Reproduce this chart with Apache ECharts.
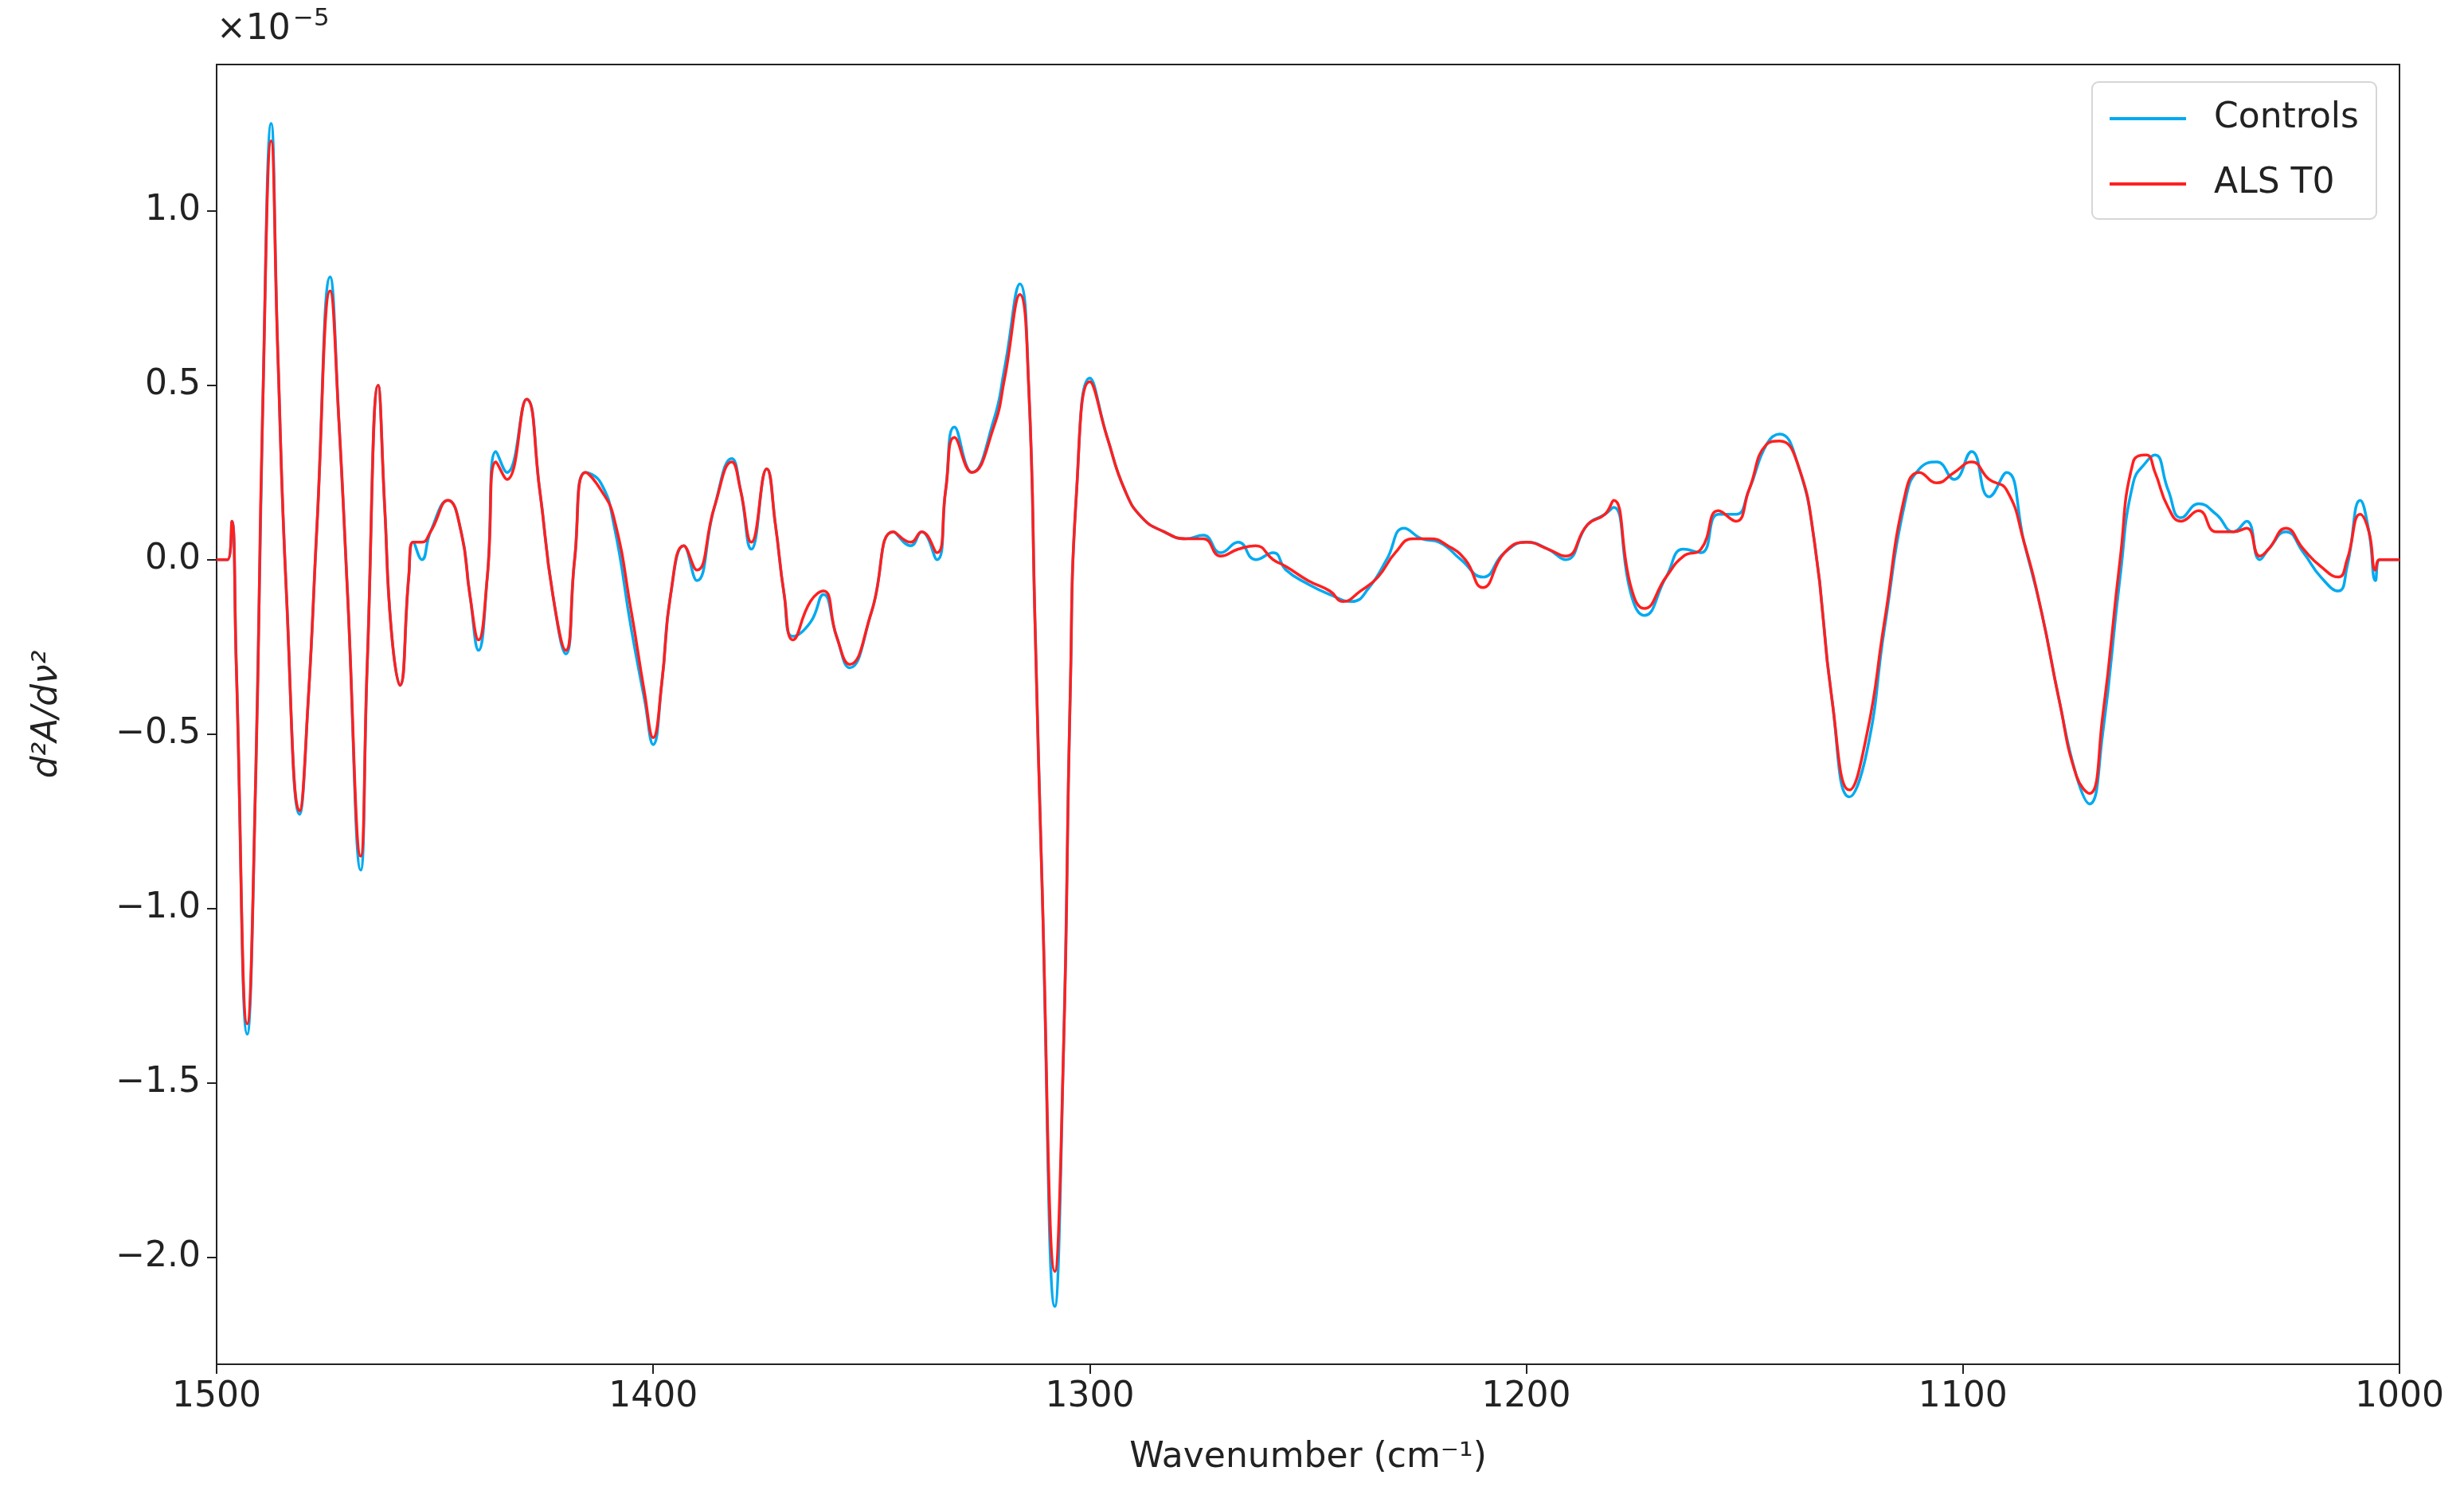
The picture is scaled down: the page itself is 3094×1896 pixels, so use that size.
<!DOCTYPE html>
<html><head><meta charset="utf-8">
<script src="https://cdn.jsdelivr.net/npm/echarts@6/dist/echarts.min.js"></script>
<style>html,body{margin:0;padding:0;background:#fff}#c{width:3094px;height:1896px}</style>
</head><body><div id="c"></div>
<script>
// wavenumber (cm^-1), value in units of 1e-5
const controls = [[1500,0],[1497.5,0],[1496.5,0.11],[1495.5,-0.3],[1493,-1.36],[1491,-0.6],[1489.5,0.4],[1487.5,1.25],[1486,0.6],[1484,-0.1],[1481,-0.73],[1479,-0.4],[1477,0.1],[1474,0.81],[1472,0.4],[1470,-0.1],[1467,-0.89],[1465.5,-0.3],[1463,0.5],[1461.5,0.15],[1460,-0.2],[1458,-0.36],[1456,-0.05],[1455,0.05],[1453,0.0],[1451,0.08],[1447,0.17],[1444,0.08],[1442,-0.1],[1440,-0.26],[1438,-0.05],[1436,0.31],[1433.5,0.25],[1429,0.46],[1426,0.2],[1423,-0.1],[1420,-0.27],[1418,0.0],[1415.5,0.25],[1412,0.22],[1409,0.1],[1405,-0.2],[1402,-0.4],[1400,-0.53],[1398,-0.35],[1396,-0.1],[1393,0.04],[1390,-0.06],[1386,0.15],[1382,0.29],[1380,0.2],[1377.5,0.03],[1374,0.26],[1372,0.1],[1370,-0.1],[1368,-0.22],[1364,-0.18],[1361,-0.1],[1358,-0.22],[1355,-0.31],[1350,-0.15],[1345,0.08],[1341,0.04],[1338.5,0.08],[1335,0.0],[1333,0.2],[1331,0.38],[1327,0.25],[1322,0.4],[1319.5,0.55],[1316,0.79],[1314,0.5],[1312.5,-0.2],[1311,-0.9],[1308,-2.14],[1306,-1.4],[1304.5,-0.4],[1303,0.2],[1300,0.52],[1296,0.35],[1292,0.2],[1288,0.12],[1283,0.08],[1278,0.06],[1274,0.07],[1270,0.02],[1266,0.05],[1262,0.0],[1258,0.02],[1255,-0.03],[1250,-0.07],[1245,-0.1],[1240,-0.12],[1236,-0.08],[1232,0.0],[1228,0.09],[1224,0.06],[1220,0.05],[1215,0.0],[1210,-0.05],[1205,0.02],[1200,0.05],[1195,0.03],[1191,0.0],[1186,0.1],[1182,0.13],[1180,0.15],[1176,-0.1],[1173,-0.16],[1168,-0.05],[1164,0.03],[1160,0.02],[1156,0.13],[1152,0.13],[1149,0.2],[1145,0.33],[1142,0.36],[1138,0.28],[1134,0.05],[1130,-0.4],[1126,-0.68],[1122,-0.55],[1118,-0.2],[1113,0.18],[1110,0.26],[1106,0.28],[1102,0.23],[1098,0.31],[1094,0.18],[1090,0.25],[1086,0.05],[1082,-0.15],[1078,-0.4],[1074,-0.62],[1071,-0.7],[1068,-0.5],[1064,-0.05],[1061,0.22],[1058,0.28],[1056,0.3],[1053,0.2],[1050,0.12],[1046,0.16],[1042,0.13],[1038,0.08],[1035,0.11],[1032,0.0],[1030,0.03],[1026,0.08],[1022,0.02],[1018,-0.05],[1014,-0.09],[1012,-0.02],[1009,0.17],[1007,0.08],[1005.5,-0.06],[1004.5,0],[1000,0]];
const als = [[1500,0],[1497.5,0],[1496.5,0.11],[1495.5,-0.3],[1493,-1.33],[1491,-0.6],[1489.5,0.4],[1487.5,1.2],[1486,0.6],[1484,-0.1],[1481,-0.72],[1479,-0.4],[1477,0.1],[1474,0.77],[1472,0.4],[1470,-0.1],[1467,-0.85],[1465.5,-0.3],[1463,0.5],[1461.5,0.15],[1460,-0.2],[1458,-0.36],[1456,-0.05],[1455,0.05],[1453,0.05],[1451,0.08],[1447,0.17],[1444,0.08],[1442,-0.1],[1440,-0.23],[1438,-0.05],[1436,0.28],[1433.5,0.23],[1429,0.46],[1426,0.2],[1423,-0.1],[1420,-0.26],[1418,0.0],[1415.5,0.25],[1412,0.2],[1409,0.12],[1405,-0.15],[1402,-0.38],[1400,-0.51],[1398,-0.35],[1396,-0.1],[1393,0.04],[1390,-0.03],[1386,0.15],[1382,0.28],[1380,0.2],[1377.5,0.05],[1374,0.26],[1372,0.1],[1370,-0.1],[1368,-0.23],[1364,-0.12],[1361,-0.09],[1358,-0.22],[1355,-0.3],[1350,-0.15],[1345,0.08],[1341,0.05],[1338.5,0.08],[1335,0.02],[1333,0.2],[1331,0.35],[1327,0.25],[1322,0.38],[1319.5,0.52],[1316,0.76],[1314,0.5],[1312.5,-0.2],[1311,-0.9],[1308,-2.04],[1306,-1.4],[1304.5,-0.4],[1303,0.2],[1300,0.51],[1296,0.35],[1292,0.2],[1288,0.12],[1283,0.08],[1278,0.06],[1274,0.06],[1270,0.01],[1266,0.03],[1262,0.04],[1258,0.0],[1255,-0.02],[1250,-0.06],[1245,-0.09],[1242,-0.12],[1238,-0.09],[1234,-0.05],[1230,0.02],[1226,0.06],[1222,0.06],[1218,0.04],[1214,0.0],[1210,-0.08],[1205,0.02],[1200,0.05],[1195,0.03],[1191,0.01],[1186,0.1],[1182,0.13],[1180,0.17],[1176,-0.08],[1173,-0.14],[1168,-0.05],[1164,0.01],[1160,0.03],[1156,0.14],[1152,0.11],[1149,0.2],[1145,0.33],[1142,0.34],[1138,0.28],[1134,0.05],[1130,-0.4],[1126,-0.66],[1122,-0.5],[1118,-0.18],[1113,0.2],[1110,0.25],[1106,0.22],[1102,0.25],[1098,0.28],[1094,0.23],[1090,0.2],[1086,0.05],[1082,-0.15],[1078,-0.4],[1074,-0.62],[1071,-0.67],[1068,-0.45],[1064,0.0],[1061,0.28],[1058,0.3],[1056,0.25],[1053,0.15],[1050,0.11],[1046,0.14],[1042,0.08],[1038,0.08],[1035,0.09],[1032,0.01],[1030,0.03],[1026,0.09],[1022,0.03],[1018,-0.02],[1014,-0.05],[1012,0.0],[1009,0.13],[1007,0.08],[1005.5,-0.03],[1004.5,0],[1000,0]];
const yTicks = [-2.0,-1.5,-1.0,-0.5,0.0,0.5,1.0];
const xTicksInterval = 100;

const chart = echarts.init(document.getElementById('c'));
const font = 'DejaVu Sans';
const fmtY = v => (v < 0 ? '\u2212' : '') + Math.abs(v).toFixed(1);
chart.setOption({
  animation:false,
  backgroundColor:'#fff',
  textStyle:{fontFamily:font},
  grid:{left:272,right:81,top:81,bottom:183,show:true,borderColor:'#222',borderWidth:2},
  legend:{right:110,top:103,orient:'vertical',data:['Controls','ALS T0'],icon:'rect',itemWidth:96,itemHeight:4,itemGap:38,
    textStyle:{fontSize:44,color:'#222',padding:[0,0,0,30]},backgroundColor:'#fff',borderColor:'#d6d6d6',borderWidth:2,borderRadius:8,padding:[24,22,22,22]},
  graphic:[{type:'text',left:272,top:16,style:{text:'\u00d710',font:'44px DejaVu Sans',fill:'#222'}},
           {type:'text',left:368,top:8,style:{text:'\u22125',font:'31px DejaVu Sans',fill:'#222'}}],
  xAxis:{type:'value',inverse:true,min:1000,max:1500,interval:xTicksInterval,
    name:'Wavenumber (cm\u207b\u00b9)',nameLocation:'middle',nameGap:96,nameTextStyle:{fontSize:44,color:'#222'},
    axisLine:{onZero:false,lineStyle:{color:'#222',width:2}},axisTick:{length:12,lineStyle:{color:'#222',width:2}},
    axisLabel:{fontSize:44,color:'#222',margin:20,formatter:v=>String(v)},splitLine:{show:false}},
  yAxis:{type:'value',min:-2.306,max:1.419,
    name:'d\u00b2A/d\u03bd\u00b2',nameLocation:'middle',nameGap:190,nameRotate:90,nameTextStyle:{fontSize:44,color:'#222',fontStyle:'italic'},
    axisLine:{show:true,onZero:false,lineStyle:{color:'#222',width:2}},
    axisTick:{show:true,length:12,customValues:yTicks,lineStyle:{color:'#222',width:2}},
    axisLabel:{fontSize:44,color:'#222',margin:20,customValues:yTicks,formatter:fmtY},splitLine:{show:false}},
  series:[
    {name:'Controls',type:'line',data:controls,smooth:0.5,showSymbol:false,lineStyle:{color:'#00aaf0',width:3.5},itemStyle:{color:'#00aaf0'}},
    {name:'ALS T0',type:'line',data:als,smooth:0.5,showSymbol:false,lineStyle:{color:'#ff2020',width:3.5},itemStyle:{color:'#ff2020'}}
  ]
});
</script></body></html>
